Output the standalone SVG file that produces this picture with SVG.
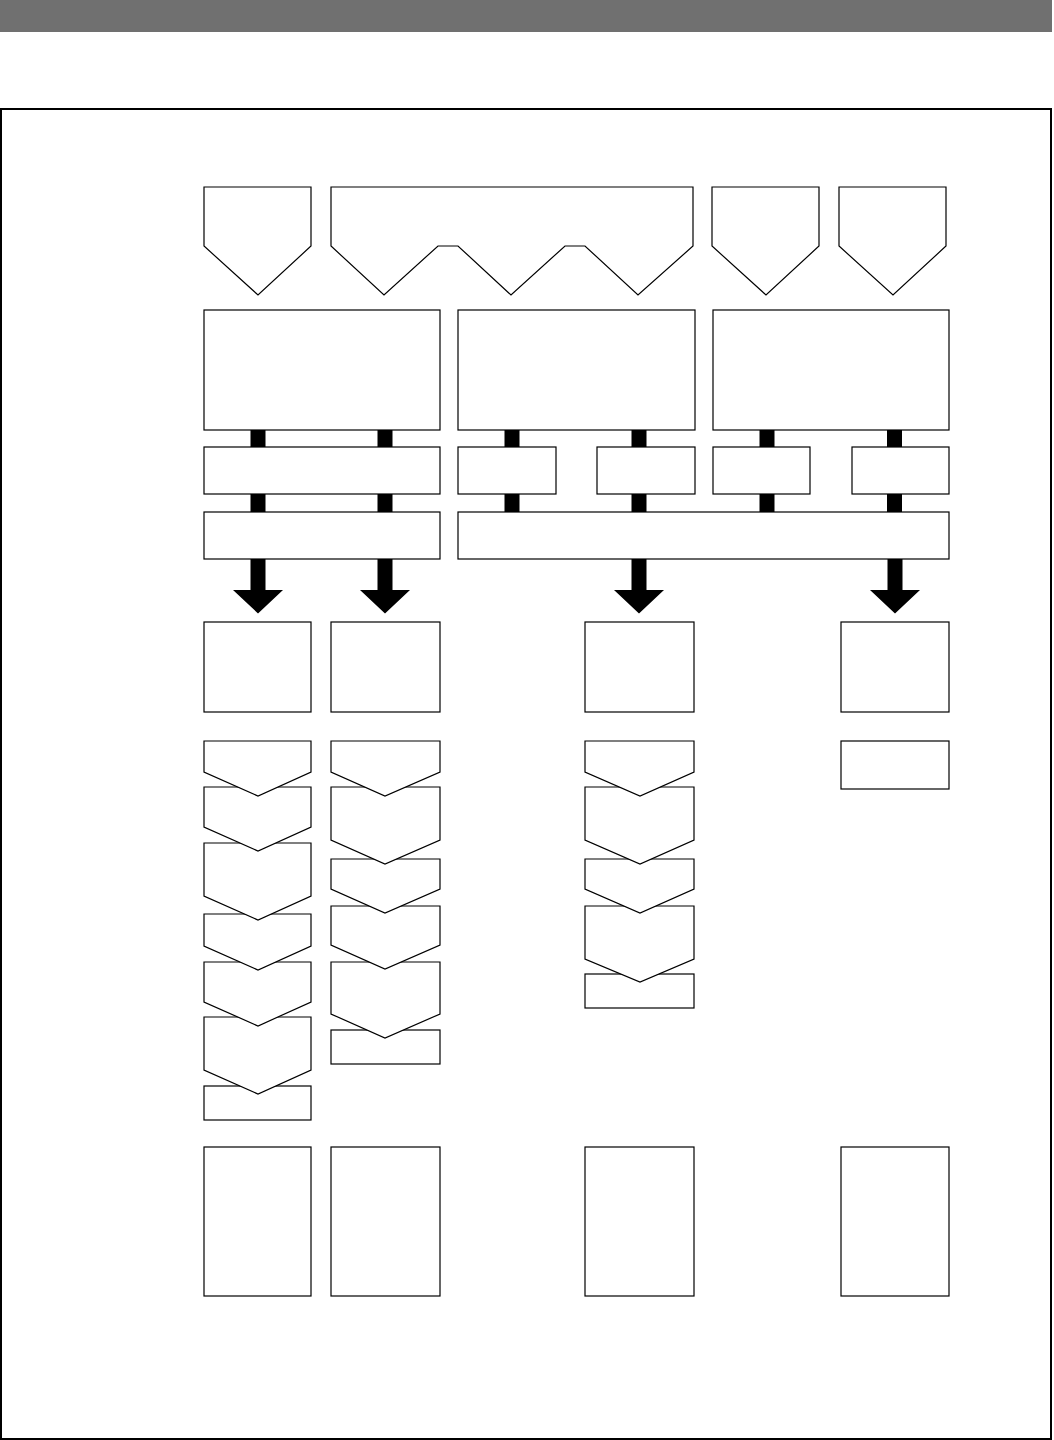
<svg xmlns="http://www.w3.org/2000/svg" width="1054" height="1440" viewBox="0 0 1054 1440">
<style>
.n{fill:#fff;stroke:#000;stroke-width:1.2}
.bar{fill:#000}
</style>
<defs>
<path id="bigArrow" d="M-7.5,0 H7.5 V31 H25 L0,54.5 L-25,31 H-7.5 Z" fill="#000"/>
</defs>
<rect x="0" y="0" width="1052" height="32" fill="#707070"/>
<rect x="1" y="109" width="1050" height="1330" fill="#fff" stroke="#000" stroke-width="2"/>

<g id="connectors">
<rect class="bar" x="250.5" y="430" width="15" height="18"/>
<rect class="bar" x="377.5" y="430" width="15" height="18"/>
<rect class="bar" x="504.5" y="430" width="15" height="18"/>
<rect class="bar" x="631.5" y="430" width="15" height="18"/>
<rect class="bar" x="759.5" y="430" width="15" height="18"/>
<rect class="bar" x="887" y="430" width="15" height="18"/>
<rect class="bar" x="250.5" y="494" width="15" height="18"/>
<rect class="bar" x="377.5" y="494" width="15" height="18"/>
<rect class="bar" x="504.5" y="494" width="15" height="18"/>
<rect class="bar" x="631.5" y="494" width="15" height="18"/>
<rect class="bar" x="759.5" y="494" width="15" height="18"/>
<rect class="bar" x="887" y="494" width="15" height="18"/>
<use href="#bigArrow" x="258" y="559"/>
<use href="#bigArrow" x="385" y="559"/>
<use href="#bigArrow" x="639" y="559"/>
<use href="#bigArrow" x="895" y="559"/>
</g>

<g id="top1"><path class="n" d="M204,187 H311 V246 L258,295 L204,246 Z"/></g>
<g id="top2"><path class="n" d="M331,187 H693 V246 L638,295 L585,246 H565 L511,295 L458,246 H438 L384,295 L331,246 Z"/></g>
<g id="top3"><path class="n" d="M712,187 H819 V246 L766,295 L712,246 Z"/></g>
<g id="top4"><path class="n" d="M839,187 H946 V246 L893,295 L839,246 Z"/></g>

<g id="big1"><rect class="n" x="204" y="310" width="236" height="120"/></g>
<g id="big2"><rect class="n" x="458" y="310" width="237" height="120"/></g>
<g id="big3"><rect class="n" x="713" y="310" width="236" height="120"/></g>

<g id="mid1"><rect class="n" x="204" y="447" width="236" height="47"/></g>
<g id="mid2"><rect class="n" x="458" y="447" width="98" height="47"/></g>
<g id="mid3"><rect class="n" x="597" y="447" width="98" height="47"/></g>
<g id="mid4"><rect class="n" x="713" y="447" width="97" height="47"/></g>
<g id="mid5"><rect class="n" x="852" y="447" width="97" height="47"/></g>

<g id="low1"><rect class="n" x="204" y="512" width="236" height="47"/></g>
<g id="low2"><rect class="n" x="458" y="512" width="491" height="47"/></g>

<g id="head1"><rect class="n" x="204" y="622" width="107" height="90"/></g>
<g id="head2"><rect class="n" x="331" y="622" width="109" height="90"/></g>
<g id="head3"><rect class="n" x="585" y="622" width="109" height="90"/></g>
<g id="head4"><rect class="n" x="841" y="622" width="108" height="90"/></g>

<!-- column 1 chevrons (drawn bottom-up so upper ones overlap) -->
<g id="c1r"><rect class="n" x="204" y="1086" width="107" height="34"/></g>
<g id="c1s6"><path class="n" d="M204,1017 H311 V1070 L258,1094 L204,1070 Z"/></g>
<g id="c1s5"><path class="n" d="M204,962 H311 V1002 L258,1026 L204,1002 Z"/></g>
<g id="c1s4"><path class="n" d="M204,914 H311 V946 L258,970 L204,946 Z"/></g>
<g id="c1s3"><path class="n" d="M204,843 H311 V896 L258,920 L204,896 Z"/></g>
<g id="c1s2"><path class="n" d="M204,787 H311 V827 L258,851 L204,827 Z"/></g>
<g id="c1s1"><path class="n" d="M204,741 H311 V772 L258,796 L204,772 Z"/></g>

<!-- column 2 -->
<g id="c2r"><rect class="n" x="331" y="1030" width="109" height="34"/></g>
<g id="c2s5"><path class="n" d="M331,962 H440 V1014 L385,1038 L331,1014 Z"/></g>
<g id="c2s4"><path class="n" d="M331,906 H440 V945 L385,969 L331,945 Z"/></g>
<g id="c2s3"><path class="n" d="M331,859 H440 V889 L385,913 L331,889 Z"/></g>
<g id="c2s2"><path class="n" d="M331,787 H440 V840 L385,864 L331,840 Z"/></g>
<g id="c2s1"><path class="n" d="M331,741 H440 V772 L385,796 L331,772 Z"/></g>

<!-- column 3 -->
<g id="c3r"><rect class="n" x="585" y="974" width="109" height="34"/></g>
<g id="c3s4"><path class="n" d="M585,906 H694 V959 L640,982 L585,959 Z"/></g>
<g id="c3s3"><path class="n" d="M585,859 H694 V889 L640,913 L585,889 Z"/></g>
<g id="c3s2"><path class="n" d="M585,787 H694 V840 L640,864 L585,840 Z"/></g>
<g id="c3s1"><path class="n" d="M585,741 H694 V772 L640,796 L585,772 Z"/></g>

<!-- column 4 -->
<g id="c4r"><rect class="n" x="841" y="741" width="108" height="48"/></g>

<g id="foot1"><rect class="n" x="204" y="1147" width="107" height="149"/></g>
<g id="foot2"><rect class="n" x="331" y="1147" width="109" height="149"/></g>
<g id="foot3"><rect class="n" x="585" y="1147" width="109" height="149"/></g>
<g id="foot4"><rect class="n" x="841" y="1147" width="108" height="149"/></g>
</svg>
